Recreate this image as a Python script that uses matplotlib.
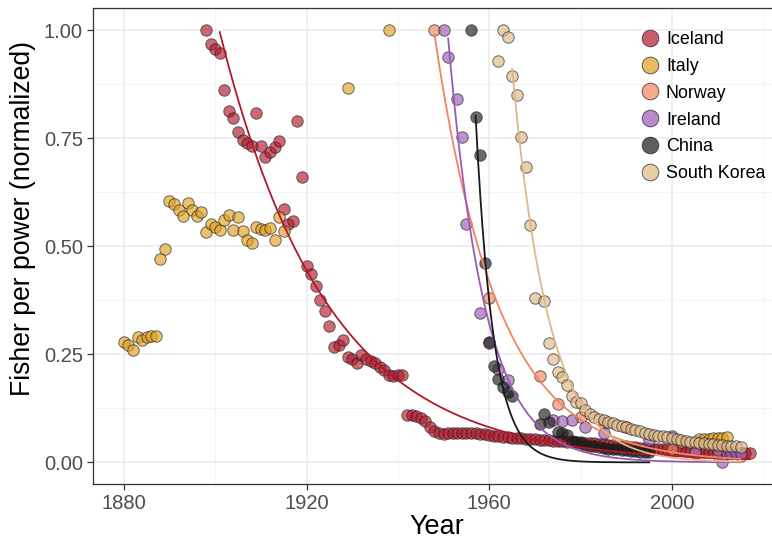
import numpy as np
import matplotlib.pyplot as plt

plt.rcParams['font.family'] = ['Liberation Sans', 'DejaVu Sans']

countries = ['Iceland', 'Italy', 'Norway', 'Ireland', 'China', 'South Korea']
colors = ['#B2182B', '#E0A020', '#F4845F', '#9B59B6', '#1A1A1A', '#DEB887']

iceland_years = list(range(1898, 2018))
iceland_vals = [1.000, 0.968, 0.957, 0.947, 0.861, 0.813, 0.797, 0.765, 0.746, 0.738,
                0.732, 0.809, 0.732, 0.707, 0.718, 0.730, 0.744, 0.586, 0.551, 0.558,
                0.789, 0.659, 0.455, 0.436, 0.408, 0.375, 0.351, 0.315, 0.267, 0.271,
                0.283, 0.244, 0.238, 0.230, 0.248, 0.240, 0.234, 0.230, 0.221, 0.213,
                0.202, 0.200, 0.202, 0.202, 0.109, 0.109, 0.108, 0.103, 0.096, 0.082,
                0.072, 0.068, 0.066, 0.067, 0.068, 0.067, 0.068, 0.069, 0.068, 0.067,
                0.066, 0.065, 0.063, 0.062, 0.060, 0.059, 0.058, 0.057, 0.057, 0.056,
                0.055, 0.054, 0.053, 0.052, 0.051, 0.051, 0.050, 0.049, 0.049, 0.048,
                0.047, 0.047, 0.046, 0.045, 0.045, 0.044, 0.043, 0.042, 0.041, 0.040,
                0.039, 0.038, 0.037, 0.036, 0.035, 0.034, 0.033, 0.032, 0.031, 0.031,
                0.030, 0.030, 0.029, 0.028, 0.028, 0.027, 0.026, 0.026, 0.025, 0.025,
                0.024, 0.024, 0.023, 0.023, 0.022, 0.022, 0.021, 0.021, 0.021, 0.021]
iceland_years = iceland_years[:len(iceland_vals)]

italy_years = [1880, 1881, 1882, 1883, 1884, 1885, 1886, 1887, 1888, 1889,
               1890, 1891, 1892, 1893, 1894, 1895, 1896, 1897, 1898, 1899,
               1900, 1901, 1902, 1903, 1904, 1905, 1906, 1907, 1908, 1909,
               1910, 1911, 1912, 1913, 1914, 1915, 1929, 1938,
               2002, 2006, 2007, 2008, 2009, 2010, 2011, 2012]
italy_vals = [0.278, 0.271, 0.260, 0.289, 0.283, 0.291, 0.293, 0.292, 0.470, 0.493,
              0.604, 0.597, 0.584, 0.570, 0.599, 0.584, 0.570, 0.580, 0.533, 0.551,
              0.545, 0.537, 0.560, 0.572, 0.537, 0.567, 0.535, 0.514, 0.508, 0.544,
              0.540, 0.537, 0.541, 0.514, 0.567, 0.536, 0.865, 1.000,
              0.046, 0.053, 0.053, 0.055, 0.056, 0.056, 0.057, 0.058]

norway_years = [1948, 1960, 1971, 1975, 1980, 1985, 1990, 2000, 2005, 2010, 2015]
norway_vals = [1.000, 0.381, 0.200, 0.136, 0.105, 0.090, 0.082, 0.030, 0.022, 0.018, 0.015]

ireland_years = [1950, 1951, 1953, 1954, 1955, 1958, 1960, 1962, 1964, 1974, 1976, 1978,
                 1981, 1985, 1995, 2000, 2005, 2010, 2011, 2012, 2013, 2014, 2015]
ireland_vals = [1.000, 0.938, 0.840, 0.753, 0.551, 0.345, 0.275, 0.217, 0.190, 0.098, 0.096, 0.099,
                0.082, 0.067, 0.051, 0.062, 0.025, 0.028, 0.001, 0.021, 0.021, 0.021, 0.021]

china_years = [1956, 1957, 1958, 1959, 1960, 1961, 1962, 1963, 1964, 1965,
               1971, 1972, 1973, 1975, 1976, 1977, 1978, 1979, 1980, 1981,
               1982, 1983, 1984, 1985, 1986, 1987, 1988, 1989, 1990, 1991,
               1992, 1993, 1994, 1995]
china_vals = [1.000, 0.798, 0.710, 0.462, 0.279, 0.223, 0.194, 0.175, 0.163, 0.154,
              0.089, 0.113, 0.094, 0.071, 0.067, 0.063, 0.050, 0.047, 0.044, 0.041,
              0.039, 0.037, 0.035, 0.033, 0.032, 0.031, 0.030, 0.029, 0.028, 0.027,
              0.026, 0.025, 0.024, 0.023]

korea_years = [1962, 1963, 1964, 1965, 1966, 1967, 1968, 1969, 1970, 1972,
               1973, 1974, 1975, 1976, 1977, 1978, 1979, 1980, 1981, 1982,
               1983, 1984, 1985, 1986, 1987, 1988, 1989, 1990, 1991, 1992,
               1993, 1994, 1995, 1996, 1997, 1998, 1999, 2000, 2001, 2002,
               2003, 2004, 2005, 2006, 2007, 2008, 2009, 2010, 2011, 2012,
               2013, 2014, 2015]
korea_vals = [0.928, 1.000, 0.983, 0.894, 0.850, 0.752, 0.684, 0.549, 0.381, 0.374,
              0.277, 0.240, 0.210, 0.198, 0.179, 0.154, 0.140, 0.138, 0.122, 0.112,
              0.105, 0.100, 0.097, 0.093, 0.090, 0.087, 0.084, 0.081, 0.078, 0.075,
              0.072, 0.069, 0.066, 0.064, 0.062, 0.060, 0.058, 0.056, 0.054, 0.052,
              0.050, 0.048, 0.046, 0.045, 0.044, 0.043, 0.042, 0.041, 0.040, 0.039,
              0.038, 0.037, 0.036]

series = {
    'Iceland': (iceland_years, iceland_vals),
    'Italy': (italy_years, italy_vals),
    'Norway': (norway_years, norway_vals),
    'Ireland': (ireland_years, ireland_vals),
    'China': (china_years, china_vals),
    'South Korea': (korea_years, korea_vals),
}

# first year used for the exponential fit (no fit for Italy)
fit_start = {'Iceland': 1901, 'Norway': 1948, 'Ireland': 1951, 'China': 1957, 'South Korea': 1965}


def fit_decay(t, y, t0):
    # least squares for y = a * exp(-b * (t - t0)), scanning b
    dt = t - t0
    best = None
    for b in np.linspace(0.002, 1.5, 3000):
        e = np.exp(-b * dt)
        a = (e @ y) / (e @ e)
        err = np.sum((y - a * e) ** 2)
        if best is None or err < best[0]:
            best = (err, a, b)
    return best[1], best[2]


fig = plt.figure(figsize=(7.72, 5.42), dpi=100)
ax = fig.add_axes([92.5 / 772, 58 / 542, (781 - 92.5) / 772, (484 - 8.4) / 542])

for name, col in zip(countries, colors):
    yrs, vals = series[name]
    ax.scatter(yrs, vals, s=68, c=col, alpha=0.65, edgecolors='#222222',
               linewidths=0.7, zorder=3)

for name, col in zip(countries, colors):
    if name not in fit_start:
        continue
    yrs, vals = series[name]
    t = np.array(yrs, dtype=float)
    y = np.array(vals, dtype=float)
    m = t >= fit_start[name]
    a, b = fit_decay(t[m], y[m], fit_start[name])
    tt = np.linspace(fit_start[name], t[m].max(), 300)
    ax.plot(tt, a * np.exp(-b * (tt - fit_start[name])), color=col, lw=1.3, zorder=4)

ax.set_xlim(1873.15, 2023.85)
ax.set_ylim(-0.05, 1.05)
ax.set_xticks([1880, 1920, 1960, 2000])
ax.set_xticks([1900, 1940, 1980, 2020], minor=True)
ax.set_yticks([0, 0.25, 0.5, 0.75, 1.0])
ax.set_yticklabels(['0.00', '0.25', '0.50', '0.75', '1.00'])
ax.set_yticks([0.125, 0.375, 0.625, 0.875], minor=True)

ax.grid(which='major', color='#EBEBEB', lw=1.1, zorder=0)
ax.grid(which='minor', color='#F2F2F2', lw=0.6, zorder=0)
ax.set_axisbelow(True)
for sp in ax.spines.values():
    sp.set_color('#333333')
    sp.set_linewidth(0.9)
ax.tick_params(which='major', length=4, width=0.9, color='#333333',
               labelsize=14.5, labelcolor='#4D4D4D', pad=3)
ax.tick_params(which='minor', length=0)

ax.set_xlabel('Year', fontsize=19.5, labelpad=1)
ax.set_ylabel('Fisher per power (normalized)', fontsize=19.2)
ax.yaxis.set_label_coords(-0.082, 0.559)

handles = [plt.Line2D([], [], marker='o', ls='', markersize=12, markerfacecolor=c,
                      markeredgecolor='#222222', markeredgewidth=0.7, alpha=0.7)
           for c in colors]
leg = ax.legend(handles, countries, loc='upper left',
                bbox_to_anchor=(641 / 772, (542 - 31) / 542), bbox_transform=fig.transFigure,
                frameon=False, fontsize=12.9, handlelength=1.0, handletextpad=0.39,
                labelspacing=0.55, borderaxespad=0, borderpad=0)

fig.savefig('out.png', dpi=100)
